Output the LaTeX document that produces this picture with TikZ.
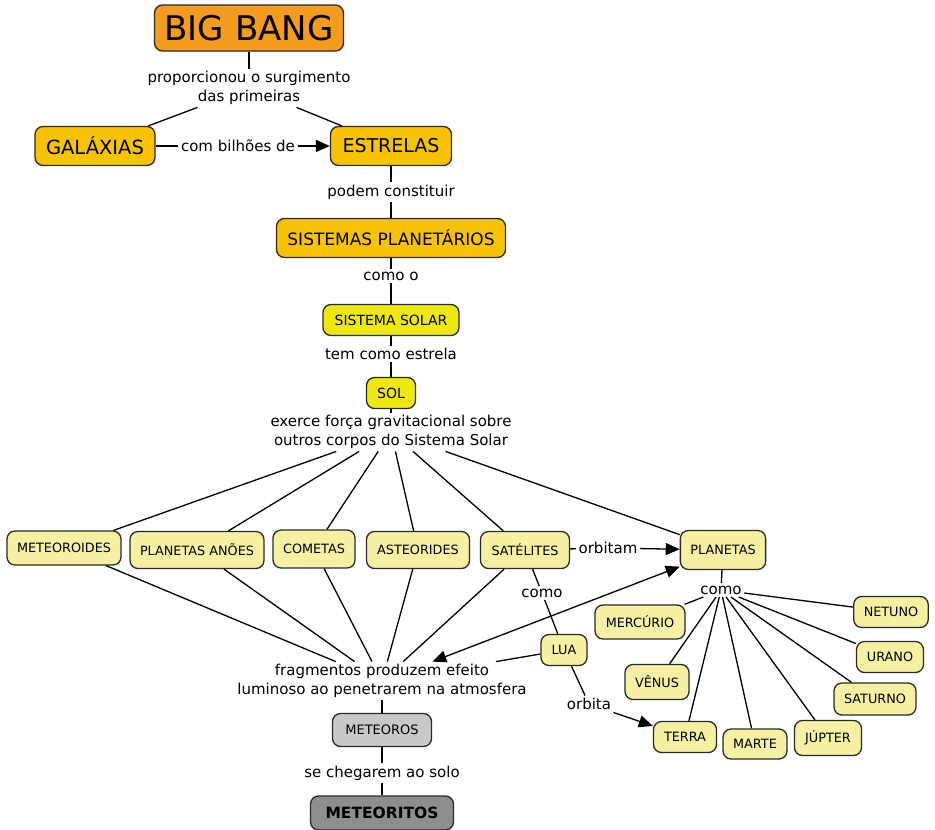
\documentclass[tikz,border=0pt]{standalone}
\usepackage{fontspec}
\setmainfont{DejaVu Sans}
\usetikzlibrary{arrows.meta}
\definecolor{bangorange}{HTML}{F59B1E}
\definecolor{goldfill}{HTML}{F7C300}
\definecolor{yellowfill}{HTML}{EEE80C}
\definecolor{palefill}{HTML}{F5F0A2}
\definecolor{greyfill}{HTML}{C9C9C9}
\definecolor{darkfill}{HTML}{8E8E8E}
\definecolor{boxline}{HTML}{2A2A2A}

\begin{document}
\begin{tikzpicture}[x=1pt,y=-1pt,
  box/.style={shape=rectangle, rounded corners=8pt, draw=boxline, line width=1.3pt, inner xsep=10pt},
  bangbox/.style={box, fill=bangorange, minimum width=189pt, minimum height=46pt, font=\fontsize{34}{38}\selectfont},
  goldbox/.style={box, fill=goldfill, minimum height=39pt, font=\fontsize{19}{22}\selectfont},
  yellowbox/.style={box, fill=yellowfill, minimum height=31pt, font=\fontsize{14}{16}\selectfont},
  palebox/.style={box, fill=palefill, minimum height=34pt, font=\fontsize{12.8}{15}\selectfont},
  greybox/.style={box, fill=greyfill, minimum height=33pt, font=\fontsize{13}{15}\selectfont},
  darkbox/.style={box, fill=darkfill, minimum height=34pt, font=\fontsize{15.5}{18}\bfseries},
  phrase/.style={align=center, inner sep=2pt, font=\fontsize{15}{19}\selectfont},
  tip/.style={-{Triangle[length=14pt,width=12pt]}},
  every path/.style={line width=1.3pt}]
\useasboundingbox (0,0) rectangle (935,830);

% concepts
\node (1) at (249,28) [bangbox] {BIG BANG};
\node (2) at (95,146) [goldbox, minimum width=120pt, font=\fontsize{19.5}{22}\selectfont] {GALÁXIAS};
\node (3) at (391,146) [goldbox, minimum width=121pt] {ESTRELAS};
\node (4) at (391,238) [goldbox, minimum width=229pt, font=\fontsize{17}{20}\selectfont] {SISTEMAS PLANETÁRIOS};
\node (5) at (391,320) [yellowbox, minimum width=136pt] {SISTEMA SOLAR};
\node (6) at (391,393) [yellowbox, minimum width=49pt] {SOL};
\node (7) at (64,548) [palebox, minimum width=114pt] {METEOROIDES};
\node (8) at (197,550) [palebox, minimum width=133pt, minimum height=37pt] {PLANETAS ANÕES};
\node (9) at (314,549) [palebox, minimum width=82pt, minimum height=38pt] {COMETAS};
\node (10) at (418,550) [palebox, minimum width=103pt, minimum height=37pt] {ASTEORIDES};
\node (11) at (525,550) [palebox, minimum width=89pt, minimum height=37pt] {SATÉLITES};
\node (12) at (723,550) [palebox, minimum width=85pt, minimum height=39pt] {PLANETAS};
\node (13) at (564,650) [palebox, minimum width=46pt, minimum height=31pt] {LUA};
\node (14) at (640,622) [palebox, minimum width=90pt] {MERCÚRIO};
\node (15) at (657,682) [palebox, minimum width=64pt, minimum height=35pt] {VÊNUS};
\node (16) at (685,737) [palebox, minimum width=63pt, minimum height=31pt] {TERRA};
\node (17) at (755,744) [palebox, minimum width=64pt, minimum height=30pt] {MARTE};
\node (18) at (828,738) [palebox, minimum width=67pt, minimum height=35pt] {JÚPTER};
\node (19) at (875,699) [palebox, minimum width=82pt, minimum height=32pt] {SATURNO};
\node (20) at (890,657) [palebox, minimum width=67pt, minimum height=31pt] {URANO};
\node (21) at (891,612) [palebox, minimum width=74pt, minimum height=31pt] {NETUNO};
\node (22) at (382,730) [greybox, minimum width=99pt] {METEOROS};
\node (23) at (382,813) [darkbox, minimum width=143pt] {METEORITOS};

% linking phrases
\node (l1) at (249,88) [phrase] {proporcionou o surgimento\\das primeiras};
\node (l2) at (238,146) [phrase] {com bilhões de};
\node (l3) at (391,192) [phrase] {podem constituir};
\node (l4) at (391,276) [phrase] {como o};
\node (l5) at (391,354) [phrase] {tem como estrela};
\node (l6) at (391,432) [phrase] {exerce força gravitacional sobre\\outros corpos do Sistema Solar};
\node (l7) at (608,548) [phrase] {orbitam};
\node (l8) at (382,681) [phrase] {fragmentos produzem efeito\\luminoso ao penetrarem na atmosfera};
\node (l9) at (542,593) [phrase] {como};
\node (l10) at (589,704) [phrase] {orbita};
\node (l11) at (721,590) [phrase] {como};
\node (l12) at (382,773) [phrase] {se chegarem ao solo};

\path [-] (1)edge (l1);
\path [-] (l1)edge (2);
\path [-] (l1)edge (3);
\path [-] (2)edge (l2);
\path [tip] (l2)edge (3);
\path [-] (3)edge (l3);
\path [-] (l3)edge (4);
\path [-] (4)edge (l4);
\path [-] (l4)edge (5);
\path [-] (5)edge (l5);
\path [-] (l5)edge (6);
\path [-] (6)edge (l6);
\foreach \n in {7,...,12}
  \path [-] (l6)edge (\n);
\foreach \n in {7,...,11}
  \path [-] (\n)edge (l8);
\path [-] (11)edge (l7);
\path [tip] (l7)edge (12);
\path [{Triangle[length=14pt,width=12pt]}-{Triangle[length=14pt,width=12pt]}] (l8)edge (12);
\path [-] (13)edge (l8);
\path [-] (11)edge (l9);
\path [-] (l9)edge (13);
\path [-] (13)edge (l10);
\path [tip] (l10)edge (16);
\path [-] (12)edge (l11);
\foreach \n in {14,...,21}
  \path [-] (l11)edge (\n);
\path [-] (l8)edge (22);
\path [-] (22)edge (l12);
\path [-] (l12)edge (23);

\end{tikzpicture}
\end{document}
